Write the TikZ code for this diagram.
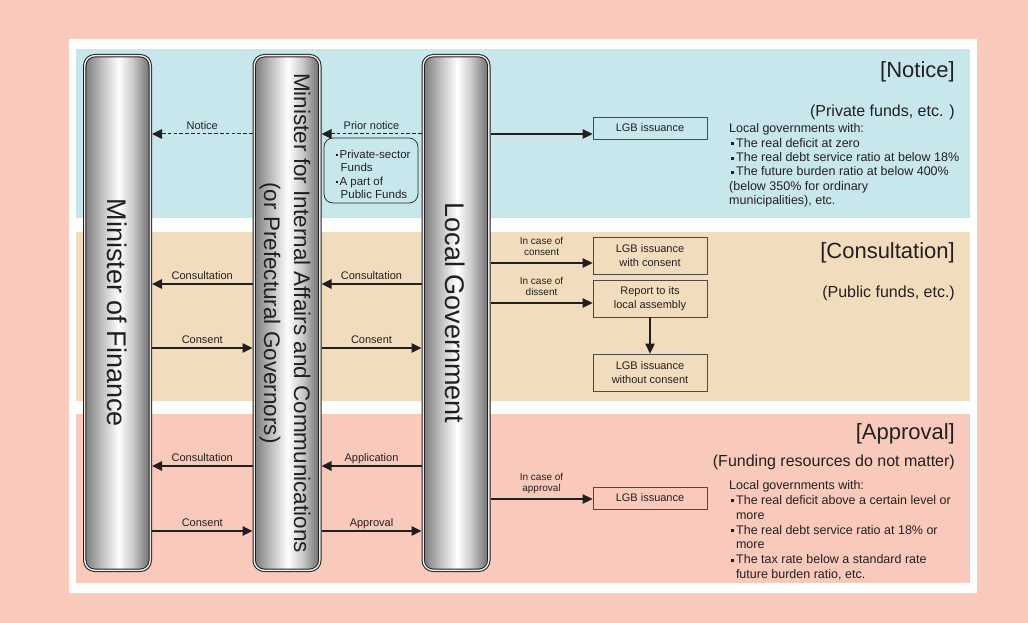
\documentclass[tikz,border=0pt]{standalone}
\usepackage{fontspec}
\setmainfont{Liberation Sans}
\usetikzlibrary{arrows.meta}
\definecolor{bgpink}{HTML}{F9CABC}
\definecolor{bandblue}{HTML}{C8E7EC}
\definecolor{bandtan}{HTML}{F2DCBE}
\definecolor{bandpink}{HTML}{F9CABC}
\definecolor{ink}{HTML}{231F20}
\definecolor{boxline}{HTML}{4A4A4A}
\pgfdeclarehorizontalshading{pillarshade}{100bp}{color(0bp)=(black!55); color(25bp)=(black!52); color(38bp)=(black!25); color(51bp)=(white); color(62bp)=(black!22); color(75bp)=(black!58); color(100bp)=(black!58)}
\newcommand\bul{\hspace*{2pt}\rule[2pt]{2.8pt}{3pt}\hspace*{2.2pt}}
\newcommand\dotb{\rule[2.6pt]{1.9pt}{1.9pt}\hspace*{1.5pt}}
\begin{document}
\begin{tikzpicture}[x=1pt,y=-1pt,
  pillar/.style={draw=ink, line width=1pt, double=white!85!gray, double distance=1.4pt,
    rounded corners=10pt, shading=pillarshade, minimum width=65.6pt, minimum height=514.6pt,
    inner sep=0pt, outer sep=1.7pt},
  ptxt/.style={rotate=-90, text=ink, inner sep=0pt},
  arr/.style={draw=ink, line width=1.3pt, -{Triangle[length=10pt,width=9.5pt]}},
  darr/.style={draw=ink, line width=1pt, dash pattern=on 3.5pt off 2.3pt, -{Triangle[length=10pt,width=9.5pt]}},
  lbl/.style={font=\fontsize{11}{13}\selectfont, text=ink, text height=8pt, text depth=2.3pt, inner sep=0pt, above=1.7pt},
  slbl/.style={font=\fontsize{10}{11}\selectfont, text=ink, align=center, inner sep=0pt, above=4.4pt},
  rbox/.style={draw=boxline, line width=0.8pt, minimum width=114pt, inner sep=0pt, align=center,
    font=\fontsize{11}{14}\selectfont, text=ink},
  ttl/.style={font=\fontsize{22}{26}\selectfont, text=ink, anchor=east, inner sep=0pt},
  sub/.style={font=\fontsize{16}{19}\selectfont, text=ink, anchor=east, inner sep=0pt},
  cond/.style={anchor=north west, align=left, inner sep=0pt, text=ink}
]
\useasboundingbox (0,0) rectangle (1028,623);
\fill[bgpink] (0,0) rectangle (1028,623);
\fill[white] (69,39) rectangle (977,593);
\fill[bandblue] (76,49) rectangle (970,218);
\fill[bandtan] (76,232) rectangle (970,401);
\fill[bandpink] (76,414) rectangle (970,583);

% pillars
\node[pillar] (mof) at (117.5,313) {};
\node[pillar] (mic) at (287,313) {};
\node[pillar] (lg) at (456,313) {};
\node[ptxt, font=\fontsize{27}{30}\selectfont] (moft) at (mof.center) {Minister of Finance};
\node[ptxt, align=center, font=\fontsize{22.5}{30}\selectfont] (mict) at ([xshift=-2pt]mic.center) {Minister for Internal Affairs and Communications\\(or Prefectural Governors)};
\node[ptxt, font=\fontsize{27}{30}\selectfont] (lgt) at ([xshift=-1pt]lg.center) {Local Government};

% level coordinates
\coordinate (yN) at (0,134);
\coordinate (yC1) at (0,284);
\coordinate (yC2) at (0,348);
\coordinate (yA1) at (0,466);
\coordinate (yA2) at (0,531);
\coordinate (yR1) at (0,263);
\coordinate (yR2) at (0,303);
\coordinate (yR3) at (0,499);

% right boxes
\node[rbox, minimum height=22pt] (lgb1) at (650,128) {LGB issuance};
\node[rbox, minimum height=37pt] (lgbc) at (650,255.5) {LGB issuance\\with consent};
\node[rbox, minimum height=37pt] (rep) at (650,298.5) {Report to its\\local assembly};
\node[rbox, minimum height=37pt] (lgbw) at (650,372.5) {LGB issuance\\without consent};
\node[rbox, minimum height=22pt] (lgba) at (650,498) {LGB issuance};

% prior notice bracket
\node[draw=ink, line width=0.7pt, rounded corners=9pt, minimum width=94pt, minimum height=65pt, inner sep=0pt] (pbox) at (371,170.5) {};
\node[cond, font=\fontsize{11.5}{13.4}\selectfont] (ptext) at (336,150) {\dotb Private-sector\\\hspace*{4.5pt}Funds\\\dotb A part of\\\hspace*{4.5pt}Public Funds};

% notice arrows
\draw[darr] (mic.west |- yN) -- node[lbl] {Notice} (mof.east |- yN);
\draw[darr] (lg.west |- yN) -- node[lbl] {Prior notice} (mic.east |- yN);
\draw[arr] (lg.east |- yN) -- (lgb1.west |- yN);

% consultation arrows
\draw[arr] (mic.west |- yC1) -- node[lbl] {Consultation} (mof.east |- yC1);
\draw[arr] (lg.west |- yC1) -- node[lbl] {Consultation} (mic.east |- yC1);
\draw[arr] (mof.east |- yC2) -- node[lbl] {Consent} (mic.west |- yC2);
\draw[arr] (mic.east |- yC2) -- node[lbl] {Consent} (lg.west |- yC2);
\draw[arr] (lg.east |- yR1) -- node[slbl] {In case of\\consent\vphantom{p}} (lgbc.west |- yR1);
\draw[arr] (lg.east |- yR2) -- node[slbl] {In case of\\dissent\vphantom{p}} (rep.west |- yR2);
\draw[arr] (rep) -- (lgbw);

% approval arrows
\draw[arr] (mic.west |- yA1) -- node[lbl] {Consultation} (mof.east |- yA1);
\draw[arr] (lg.west |- yA1) -- node[lbl] {Application} (mic.east |- yA1);
\draw[arr] (mof.east |- yA2) -- node[lbl] {Consent} (mic.west |- yA2);
\draw[arr] (mic.east |- yA2) -- node[lbl] {Approval} (lg.west |- yA2);
\draw[arr] (lg.east |- yR3) -- node[slbl] {In case of\\approval} (lgba.west |- yR3);

% titles
\node[ttl] (tN) at (955,72) {[Notice]};
\node[sub] (sN) at (955,112) {(Private funds, etc. )};
\node[ttl] (tC) at (955,253) {[Consultation]};
\node[sub] (sC) at (955,293) {(Public funds, etc.)};
\node[ttl] (tA) at (955,434) {[Approval]};
\node[sub] (sA) at (955,462) {(Funding resources do not matter)};

% conditions
\node[cond, font=\fontsize{12.5}{14.3}\selectfont] (cN) at (729,123.7) {Local governments with:\\\bul The real deficit at zero\\\bul The real debt service ratio at below 18\%\\\bul The future burden ratio at below 400\%\\(below 350\% for ordinary\\municipalities), etc.};
\node[cond, font=\fontsize{12.5}{14.8}\selectfont] (cA) at (729,480.4) {Local governments with:\\\bul The real deficit above a certain level or\\\hspace*{6.8pt}more\\\bul The real debt service ratio at 18\% or\\\hspace*{6.8pt}more\\\bul The tax rate below a standard rate\\\hspace*{6.8pt}future burden ratio, etc.};
\end{tikzpicture}
\end{document}
